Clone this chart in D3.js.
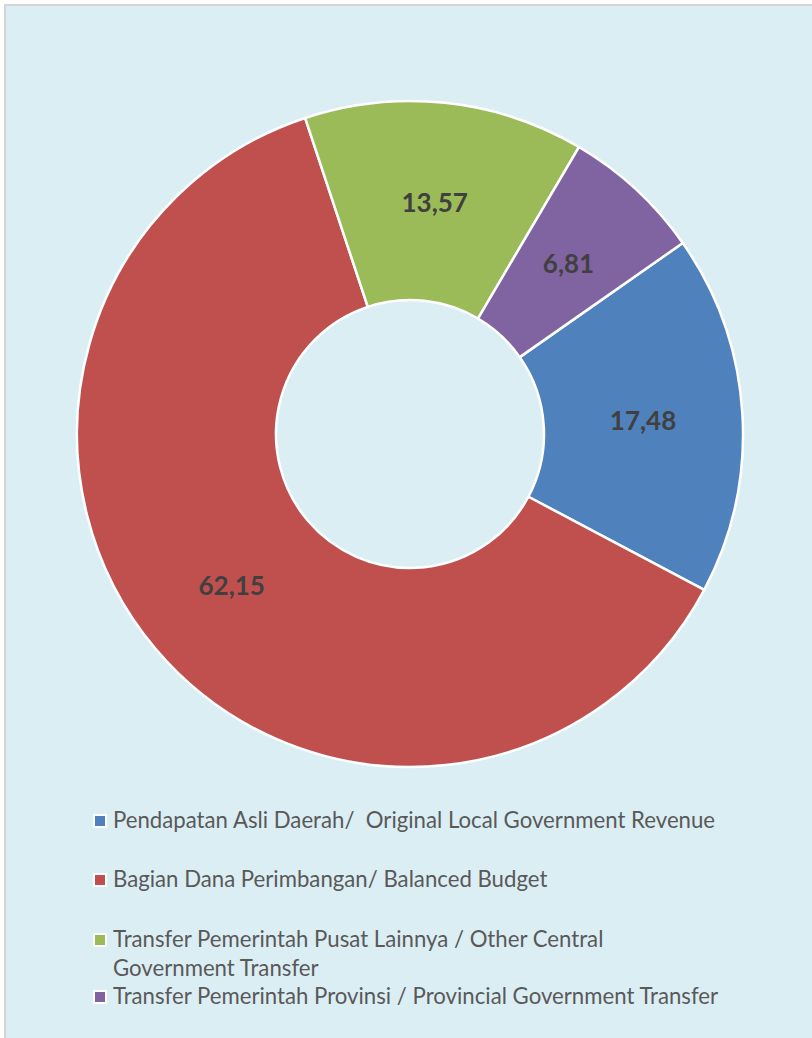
<!DOCTYPE html>
<html>
<head>
<meta charset="utf-8">
<script src="https://cdn.jsdelivr.net/npm/d3@7"></script>
<style>
  html, body { margin: 0; padding: 0; background: #ffffff; }
  svg { display: block; }
  text { white-space: pre; }
</style>
</head>
<body>
<script>
// Revenue composition (percent)
const categories = [
  "Pendapatan Asli Daerah/  Original Local Government Revenue",
  "Bagian Dana Perimbangan/ Balanced Budget",
  "Transfer Pemerintah Pusat Lainnya / Other Central\nGovernment Transfer",
  "Transfer Pemerintah Provinsi / Provincial Government Transfer"
];
const values = [17.48, 62.15, 13.57, 6.81];
const valueLabels = ["17,48", "62,15", "13,57", "6,81"];
const colors = ["#4F81BD", "#C0504D", "#9BBB59", "#8064A2"];

const W = 812, H = 1038;
const svg = d3.select("body").append("svg").attr("width", W).attr("height", H);

// chart area panel
svg.append("rect")
  .attr("x", 5).attr("y", 5).attr("width", W + 20).attr("height", H + 20)
  .attr("fill", "#DBEEF4").attr("stroke", "#D4D4D4").attr("stroke-width", 2);

const cx = 410, cy = 434, rOuter = 333, rInner = 134;
const start = 55 * Math.PI / 180;

const pie = d3.pie().sort(null).value(d => d)
  .startAngle(start).endAngle(start + 2 * Math.PI);
const arcs = pie(values);
const arc = d3.arc().innerRadius(rInner).outerRadius(rOuter);

const g = svg.append("g").attr("transform", `translate(${cx},${cy})`);
g.selectAll("path").data(arcs).join("path")
  .attr("d", arc)
  .attr("fill", (d, i) => colors[i])
  .attr("stroke", "#ffffff").attr("stroke-width", 2.5)
  .attr("stroke-linejoin", "round");

g.selectAll("text.val").data(arcs).join("text")
  .attr("class", "val")
  .attr("x", d => arc.centroid(d)[0])
  .attr("y", d => arc.centroid(d)[1])
  .attr("text-anchor", "middle")
  .attr("dominant-baseline", "central")
  .attr("font-family", "Lato, 'Open Sans', sans-serif")
  .attr("font-weight", "bold")
  .attr("font-size", 26)
  .attr("fill", "#404040")
  .text((d, i) => valueLabels[i]);

// legend
const legendY = [828, 887, 947, 1004];
const lineGap = 29;
const lg = svg.append("g");
categories.forEach((label, i) => {
  const row = lg.append("g");
  row.append("rect")
    .attr("x", 94).attr("y", legendY[i] - 13)
    .attr("width", 12).attr("height", 12)
    .attr("fill", colors[i]).attr("stroke", "#ffffff").attr("stroke-width", 2);
  const t = row.append("text")
    .attr("x", 113).attr("y", legendY[i])
    .attr("font-family", "Lato, 'Open Sans', sans-serif")
    .attr("font-size", 22.2)
    .attr("fill", "#595959");
  label.split("\n").forEach((line, k) => {
    t.append("tspan").attr("x", 113).attr("y", legendY[i] + k * lineGap).text(line);
  });
});
</script>
</body>
</html>
